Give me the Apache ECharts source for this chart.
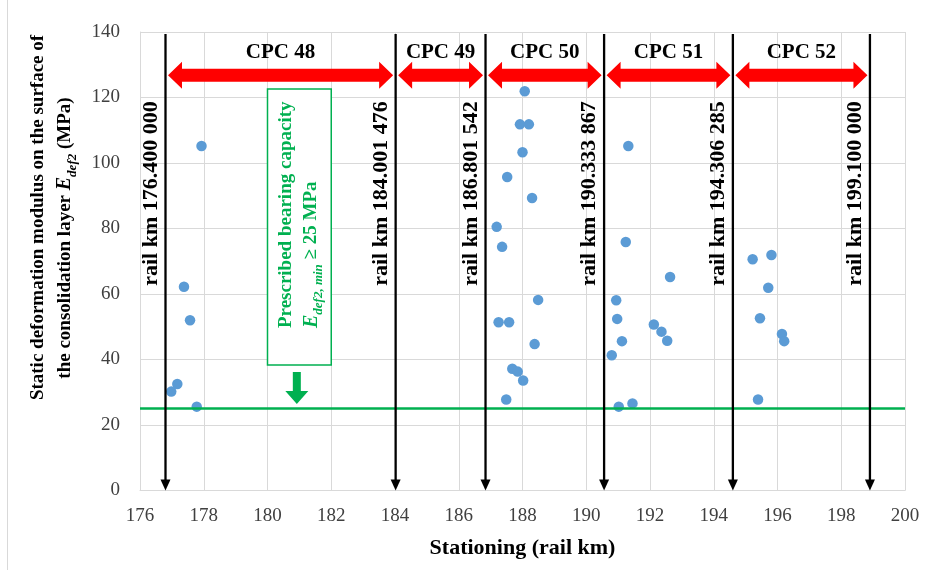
<!DOCTYPE html>
<html><head><meta charset="utf-8">
<script src="https://cdn.jsdelivr.net/npm/echarts@6/dist/echarts.min.js"></script>
<style>html,body{margin:0;padding:0;background:#fff}#c{width:925px;height:574px}</style>
</head><body><div id="c"></div>
<script>
// ---- axis ranges / ticks ----
const xMin = 176, xMax = 200, xStep = 2;
const yMin = 0, yMax = 140, yStep = 20;

// ---- measured points: stationing (rail km) and Edef2 (MPa) ----
const stationKm = [
  177.93, 177.38, 177.57, 177.17, 176.98, 177.78,
  188.07, 187.92, 188.20, 188.00, 187.52, 188.30, 187.19, 187.36, 188.49, 187.25, 187.58, 188.38, 187.68, 187.85, 188.02, 187.49,
  191.32, 191.24, 192.63, 190.94, 190.97, 192.12, 192.36, 192.54, 191.12, 190.80, 191.02, 191.45,
  195.22, 195.81, 195.71, 195.45, 196.14, 196.21, 195.39
];
const edef2 = [
  105.2, 62.2, 52.0, 32.5, 30.2, 25.6,
  121.9, 111.8, 111.8, 103.3, 95.7, 89.3, 80.5, 74.4, 58.2, 51.4, 51.4, 44.7, 37.2, 36.3, 33.6, 27.8,
  105.2, 75.9, 65.2, 58.1, 52.4, 50.7, 48.5, 45.7, 45.6, 41.3, 25.6, 26.6,
  70.6, 71.9, 61.9, 52.6, 47.8, 45.6, 27.8
];

// ---- section boundaries (arrow positions as drawn) and their labels ----
const boundaryKm = [176.8, 184.02, 186.84, 190.56, 194.6, 198.9];
const boundaryLabels = [
  'rail km 176.400 000', 'rail km 184.001 476', 'rail km 186.801 542',
  'rail km 190.333 867', 'rail km 194.306 285', 'rail km 199.100 000'
];
const cpcLabels = ['CPC 48', 'CPC 49', 'CPC 50', 'CPC 51', 'CPC 52'];
const minEdef2 = 25;

const FF = '"Liberation Serif", "Times New Roman", serif';
const GREEN = '#00B050';

const chart = echarts.init(document.getElementById('c'));
const option = {
  animation: false,
  backgroundColor: '#fff',
  grid: { left: 140, right: 20, top: 32, bottom: 83.5 },
  xAxis: {
    type: 'value', min: xMin, max: xMax, interval: xStep,
    axisLine: { show: true, lineStyle: { color: '#d9d9d9', width: 1 } },
    axisTick: { show: false },
    splitLine: { show: true, lineStyle: { color: '#d9d9d9', width: 1 } },
    axisLabel: { margin: 16, fontFamily: FF, fontSize: 19, color: '#404040' },
    name: 'Stationing (rail km)', nameLocation: 'middle', nameGap: 47,
    nameTextStyle: { fontFamily: FF, fontSize: 22, fontWeight: 'bold', color: '#000' }
  },
  yAxis: {
    type: 'value', min: yMin, max: yMax, interval: yStep,
    axisLine: { show: true, lineStyle: { color: '#d9d9d9', width: 1 } },
    axisTick: { show: false },
    splitLine: { show: true, lineStyle: { color: '#d9d9d9', width: 1 } },
    axisLabel: { margin: 20, fontFamily: FF, fontSize: 19, color: '#404040' }
  },
  series: [
    {
      type: 'scatter', z: 1, data: [], silent: true,
      markLine: {
        silent: true, animation: false,
        label: { show: false },
        symbol: 'none',
        lineStyle: { color: GREEN, width: 2.5, type: 'solid' },
        data: [[{ coord: [xMin, minEdef2] }, { coord: [xMax, minEdef2] }]]
      }
    },
    {
      type: 'scatter', z: 3,
      data: stationKm.map((x, i) => [x, edef2[i]]),
      symbolSize: 10.5,
      itemStyle: { color: '#5B9BD5', opacity: 1 }
    }
  ]
};
chart.setOption(option);

function px(x, y) { return chart.convertToPixel({ gridIndex: 0 }, [x, y]); }

const g = [];
// outer chart border (left edge)
g.push({ type: 'line', shape: { x1: 7.5, y1: 0, x2: 7.5, y2: 570 }, style: { stroke: '#d9d9d9', lineWidth: 1 }, silent: true });

// black section boundary arrows
boundaryKm.forEach(b => {
  const t = px(b, yMax), e = px(b, yMin);
  const ah = 11, aw = 10;
  g.push({ type: 'line', z: 30, silent: true, shape: { x1: t[0], y1: t[1] + 2, x2: e[0], y2: e[1] - ah + 1 }, style: { stroke: '#000', lineWidth: 2.3 } });
  g.push({ type: 'polygon', z: 30, silent: true, shape: { points: [[e[0] - aw / 2, e[1] - ah], [e[0] + aw / 2, e[1] - ah], [e[0], e[1]]] }, style: { fill: '#000' } });
});

// red double arrows with CPC labels
const arrowLevel = 126.8, labelLevel = 133.8;
const H = 27, S = 13, HL = 14, GAP = 2.5;
for (let i = 0; i < cpcLabels.length; i++) {
  const a = px(boundaryKm[i], arrowLevel), b = px(boundaryKm[i + 1], arrowLevel);
  const xl = a[0] + GAP, xr = b[0] - GAP, y = a[1];
  g.push({
    type: 'polygon', z: 50, silent: true,
    shape: { points: [[xl, y], [xl + HL, y - H / 2], [xl + HL, y - S / 2], [xr - HL, y - S / 2], [xr - HL, y - H / 2], [xr, y],
                      [xr - HL, y + H / 2], [xr - HL, y + S / 2], [xl + HL, y + S / 2], [xl + HL, y + H / 2]] },
    style: { fill: '#FF0000' }
  });
  const lp = px((boundaryKm[i] + boundaryKm[i + 1]) / 2, labelLevel);
  g.push({
    type: 'text', z: 50, silent: true, x: lp[0], y: lp[1],
    style: { text: cpcLabels[i], font: 'bold 21px ' + FF, fill: '#000', align: 'center', verticalAlign: 'middle', textAlign: 'center', textVerticalAlign: 'middle' }
  });
}
// rotated rail km labels
const railStart = 62.5;
boundaryKm.forEach((b, i) => {
  const p = px(b, railStart);
  g.push({
    type: 'text', z: 50, silent: true, x: p[0] - 14.5, y: p[1], rotation: Math.PI / 2,
    style: { text: boundaryLabels[i], font: 'bold 22px ' + FF, fill: '#000', align: 'left', verticalAlign: 'middle', textAlign: 'left', textVerticalAlign: 'middle' }
  });
});
// green annotation box
const bx0 = px(180, 122.6), bx1 = px(182, 38.3);
g.push({ type: 'rect', z: 40, silent: true, shape: { x: bx0[0], y: bx0[1], width: bx1[0] - bx0[0], height: bx1[1] - bx0[1] },
  style: { fill: '#fff', stroke: GREEN, lineWidth: 1.5 } });
const tStart = px(180, 49.6);
g.push({
  type: 'text', z: 51, silent: true, x: bx0[0] + 19, y: tStart[1], rotation: Math.PI / 2,
  style: { text: 'Prescribed bearing capacity', font: 'bold 19px ' + FF, fill: GREEN, align: 'left', verticalAlign: 'middle', textAlign: 'left', textVerticalAlign: 'middle' }
});
g.push({
  type: 'text', z: 51, silent: true, x: bx0[0] + 44, y: tStart[1], rotation: Math.PI / 2,
  style: {
    text: '{e|E}{s|def2, min}{n| ≥ 25 MPa}', fill: GREEN, align: 'left', verticalAlign: 'middle', textAlign: 'left', textVerticalAlign: 'middle',
    rich: {
      e: { fontFamily: FF, fontSize: 20, fontStyle: 'italic', fontWeight: 'bold', fill: GREEN, color: GREEN, lineHeight: 28, verticalAlign: 'middle' },
      s: { fontFamily: FF, fontSize: 13, fontStyle: 'italic', fontWeight: 'bold', fill: GREEN, color: GREEN, lineHeight: 13, verticalAlign: 'bottom' },
      n: { fontFamily: FF, fontSize: 19, fontWeight: 'bold', fill: GREEN, color: GREEN, lineHeight: 28, verticalAlign: 'middle' }
    }
  }
});
// green down arrow
const ga = px(180.92, 36.2), gt = px(180.92, 26.4);
const gs = 8, gh = 23, ghl = 13;
g.push({ type: 'polygon', z: 50, silent: true,
  shape: { points: [[ga[0] - gs / 2, ga[1]], [ga[0] + gs / 2, ga[1]], [ga[0] + gs / 2, gt[1] - ghl], [ga[0] + gh / 2, gt[1] - ghl],
                    [gt[0], gt[1]], [ga[0] - gh / 2, gt[1] - ghl], [ga[0] - gs / 2, gt[1] - ghl]] },
  style: { fill: GREEN } });

// y-axis title (two lines)
const pTop = px(xMin, yMax);
g.push({
  type: 'text', z: 50, silent: true, x: pTop[0] - 102, y: 217.5, rotation: Math.PI / 2,
  style: { text: 'Static deformation modulus on the surface of', font: 'bold 19px ' + FF, fill: '#000', align: 'center', verticalAlign: 'middle', textAlign: 'center', textVerticalAlign: 'middle' }
});
g.push({
  type: 'text', z: 50, silent: true, x: pTop[0] - 75, y: 238, rotation: Math.PI / 2,
  style: {
    text: '{n|the consolidation layer }{e|E}{s|def2}{n| (MPa)}', fill: '#000', align: 'center', verticalAlign: 'middle', textAlign: 'center', textVerticalAlign: 'middle',
    rich: {
      n: { fontFamily: FF, fontSize: 19, fontWeight: 'bold', fill: '#000', color: '#000', lineHeight: 28, verticalAlign: 'middle' },
      e: { fontFamily: FF, fontSize: 20, fontStyle: 'italic', fontWeight: 'bold', fill: '#000', color: '#000', lineHeight: 28, verticalAlign: 'middle' },
      s: { fontFamily: FF, fontSize: 13, fontStyle: 'italic', fontWeight: 'bold', fill: '#000', color: '#000', lineHeight: 13, verticalAlign: 'bottom' }
    }
  }
});
chart.setOption({ graphic: { elements: g } });
</script>
</body></html>
